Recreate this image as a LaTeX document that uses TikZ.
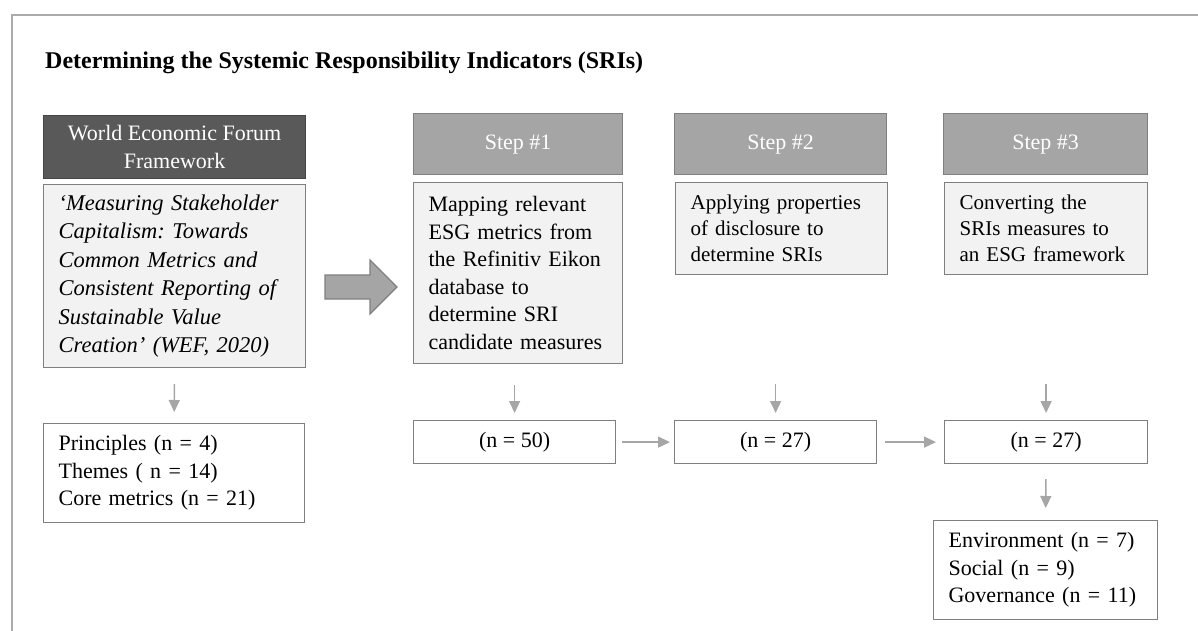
\documentclass[tikz,border=0pt]{standalone}
\usepackage{fontspec}
\setmainfont{Liberation Serif}
\usetikzlibrary{arrows.meta}
\definecolor{cFrame}{HTML}{ABABAB}
\definecolor{cDark}{HTML}{595959}
\definecolor{cDarkEdge}{HTML}{454545}
\definecolor{cMid}{HTML}{A5A5A5}
\definecolor{cMidEdge}{HTML}{7F7F7F}
\definecolor{cLight}{HTML}{F2F2F2}
\definecolor{cEdge}{HTML}{7F7F7F}
\definecolor{cArrow}{HTML}{A6A6A6}
\frenchspacing
\hyphenpenalty=10000
\hbadness=10000
\begin{document}
\begin{tikzpicture}[x=1pt,y=-1pt,
  txt/.style={font=\fontsize{22}{27}\selectfont},
  hdr/.style={draw=cMidEdge, fill=cMid, line width=1.2pt, text=white, anchor=north west, inner sep=0pt, txt, align=center},
  bodybox/.style={draw=cEdge, fill=cLight, line width=1.2pt, anchor=north west, inner xsep=15pt, inner ysep=0pt, align=left, txt},
  cntbox/.style={draw=cEdge, fill=white, line width=1.2pt, anchor=north west, inner sep=0pt, txt},
  arr/.style={draw=cArrow, line width=1.5pt, -{Triangle[length=12pt,width=11pt]}},
]
\useasboundingbox (0,0) rectangle (1198,631);
\draw[draw=cFrame, line width=2pt] (12,631) -- (12,15) -- (1198,15);

\node[anchor=base west, font=\fontsize{24}{28}\selectfont\bfseries, inner sep=0pt] (title) at (45,69) {Determining the Systemic Responsibility Indicators (SRIs)};

% column 0
\node[hdr, fill=cDark, draw=cDarkEdge, minimum width=262pt, minimum height=63pt, font=\fontsize{22}{28}\selectfont] (wefh) at (43,115) {World Economic Forum\\Framework};
\node[bodybox, text width=232pt, minimum width=262pt, minimum height=183pt, font=\fontsize{22.5}{28.5}\selectfont\itshape] (wefb) at (43,184) {‘Measuring Stakeholder\\Capitalism: Towards\\Common Metrics and\\Consistent Reporting of\\Sustainable Value\\Creation’ (WEF, 2020)};
\node[cntbox, align=left, inner xsep=15pt, text width=231pt, minimum height=99pt, font=\fontsize{22}{27.5}\selectfont] (princ) at (43,423) {Principles (n = 4)\\Themes ( n = 14)\\Core metrics (n = 21)};

% big arrow
\draw[draw=cMidEdge, fill=cMid, line width=1.2pt] (325,275) -- (370,275) -- (370,260) -- (397,287) -- (370,314) -- (370,299) -- (325,299) -- cycle;

% column 1
\node[hdr, minimum width=209pt, minimum height=61pt] (s1h) at (413,113) {Step \#1};
\node[bodybox, text width=179pt, minimum width=209pt, minimum height=181pt, font=\fontsize{22}{27.5}\selectfont] (s1b) at (413,182) {Mapping relevant\\ESG metrics from\\the Refinitiv Eikon\\database to\\determine SRI\\candidate measures};
\node[cntbox, minimum width=202pt, minimum height=43pt] (n50) at (413,420) {(n = 50)};

% column 2
\node[hdr, minimum width=212pt, minimum height=61pt] (s2h) at (674,113) {Step \#2};
\node[bodybox, text width=182pt, minimum width=212pt, minimum height=92pt, font=\fontsize{21}{26}\selectfont] (s2b) at (675,182) {Applying properties\\of disclosure to\\determine SRIs};
\node[cntbox, minimum width=202pt, minimum height=43pt] (n27a) at (674,420) {(n = 27)};

% column 3
\node[hdr, minimum width=204pt, minimum height=61pt] (s3h) at (943,113) {Step \#3};
\node[bodybox, text width=173pt, minimum width=203pt, minimum height=92pt, font=\fontsize{21}{26}\selectfont] (s3b) at (944,182) {Converting the\\SRIs measures to\\\mbox{an ESG framework}};
\node[cntbox, minimum width=203pt, minimum height=43pt] (n27b) at (944,420) {(n = 27)};
\node[cntbox, align=left, inner xsep=15pt, text width=194pt, minimum height=99pt, font=\fontsize{22}{27.5}\selectfont] (esg) at (933,520) {Environment (n = 7)\\Social (n = 9)\\Governance (n = 11)};

% connectors
\draw[arr, shorten <=16pt, shorten >=11pt] (wefb.south) -- (princ.north);
\draw[arr, shorten <=21pt, shorten >=7pt] (n50.north |- s1b.south) -- (n50.north);
\draw[arr, shorten <=109pt, shorten >=7pt] (n27a.north |- s2b.south) -- (n27a.north);
\draw[arr, shorten <=109pt, shorten >=7pt] (n27b.north |- s3b.south) -- (n27b.north);
\draw[arr, shorten <=6pt, shorten >=4pt] (n50.east) -- (n27a.west);
\draw[arr, shorten <=8pt, shorten >=8pt] (n27a.east) -- (n27b.west);
\draw[arr, shorten <=15pt, shorten >=12pt] (n27b.south) -- (esg.north);
\end{tikzpicture}
\end{document}
